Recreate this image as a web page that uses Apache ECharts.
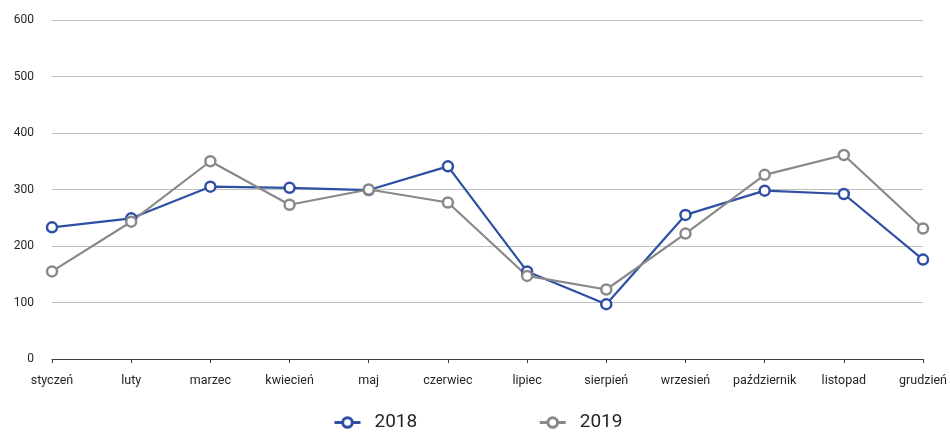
<!DOCTYPE html>
<html><head><meta charset="utf-8">
<script src="https://cdn.jsdelivr.net/npm/echarts@6/dist/echarts.min.js"></script>
<style>html,body{margin:0;padding:0;background:#fff}#c{width:950px;height:432px}</style>
</head><body><div id="c"></div>
<script>
const categories = ['styczeń','luty','marzec','kwiecień','maj','czerwiec','lipiec','sierpień','wrzesień','październik','listopad','grudzień'];
const values2018 = [233, 249, 305, 303, 299, 341, 155, 97, 255, 298, 292, 176];
const values2019 = [155, 243, 350, 273, 300, 277, 147, 123, 222, 326, 361, 231];
const yTicks = {min: 0, max: 600, interval: 100};

const font = 'Roboto';
const chart = echarts.init(document.getElementById('c'));
const mk = (name, data, color) => ({
  name, type: 'line', data,
  symbol: 'circle', symbolSize: 10, showSymbol: true,
  lineStyle: {color, width: 2.2},
  itemStyle: {color: '#fff', borderColor: color, borderWidth: 2.5},
  emphasis: {disabled: true}
});
chart.setOption({
  animation: false,
  textStyle: {fontFamily: font},
  grid: {left: 52, right: 23, top: 20, bottom: 73, containLabel: false},
  legend: {
    top: 408, left: 328, itemGap: 121, itemWidth: 26, itemHeight: 12,
    textStyle: {fontSize: 19, color: '#262626', fontFamily: font, padding: [0, 0, 0, 9]},
    data: [
      {name: '2018', itemStyle: {color: '#fff', borderColor: '#2E4FA3', borderWidth: 3}, lineStyle: {color: '#2E4FA3', width: 3}},
      {name: '2019', itemStyle: {color: '#fff', borderColor: '#898989', borderWidth: 3}, lineStyle: {color: '#898989', width: 3}}
    ]
  },
  xAxis: {
    type: 'category', data: categories, boundaryGap: false,
    axisLine: {lineStyle: {color: '#404040', width: 1.2}},
    axisTick: {show: true, length: 4, inside: false, lineStyle: {color: '#404040'}},
    axisLabel: {color: '#262626', fontSize: 12.5, margin: 15, fontFamily: font, interval: 0},
    splitLine: {show: false}
  },
  yAxis: {
    type: 'value', min: yTicks.min, max: yTicks.max, interval: yTicks.interval,
    axisLine: {show: false}, axisTick: {show: false},
    axisLabel: {color: '#262626', fontSize: 12, margin: 18, fontFamily: font},
    splitLine: {lineStyle: {color: '#BFBFBF', width: 1}}
  },
  series: [mk('2018', values2018, '#2E4FA3'), mk('2019', values2019, '#898989')]
});
</script></body></html>
